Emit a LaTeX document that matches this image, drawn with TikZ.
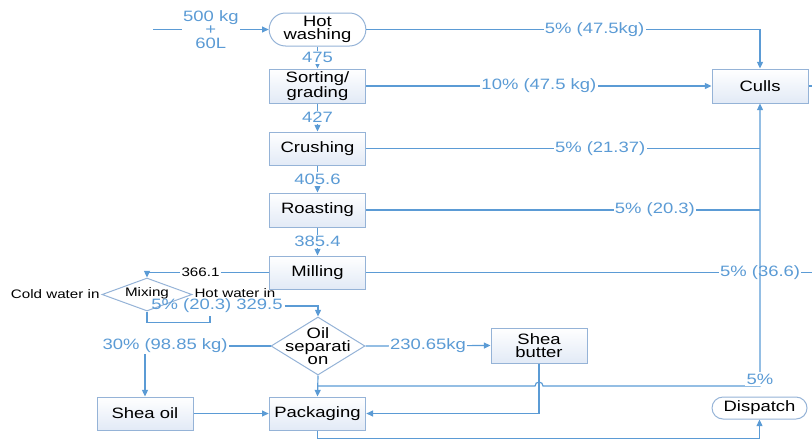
\documentclass[tikz,border=0pt]{standalone}
\usepackage{fontspec}
\setmainfont{Liberation Sans}[FakeStretch=1.23]
\usetikzlibrary{shapes.geometric,arrows.meta}
\definecolor{flowblue}{RGB}{91,155,213}
\definecolor{boxedge}{RGB}{149,179,215}
\definecolor{boxshade}{RGB}{226,234,246}
\tikzset{
  proc/.style={draw=boxedge,line width=0.6pt,top color=white,bottom color=boxshade,
    minimum width=58pt,minimum height=20.4pt,align=center,inner sep=1pt},
  term/.style={draw=boxedge,line width=0.6pt,fill=white,rounded corners=#1,
    minimum width=58pt,align=center,inner sep=1pt},
  decide/.style={draw=boxedge,line width=0.6pt,diamond,fill=white,inner sep=0pt},
  flow/.style={draw=flowblue,line width=0.7pt},
  arr/.style={-{Triangle[length=4pt,width=3.6pt]}},
  qty/.style={text=flowblue,fill=white,inner sep=0.8pt,align=center},
  note/.style={font=\fontsize{7.4}{8}\selectfont,inner sep=1pt}
}
\begin{document}
\begin{tikzpicture}[x=0.6pt,y=-0.6pt,every node/.style={font=\fontsize{9}{8}\selectfont}]
\useasboundingbox (0,0) rectangle (812,439);
\node[term=9.8pt,minimum height=19.8pt] (wash) at (317.5,29.5) {Hot\\washing};
\node[proc] (sort) at (317.5,86) {Sorting/\\grading};
\node[proc,minimum height=19.8pt] (crush) at (317.5,148.5) {Crushing};
\node[proc] (roast) at (317.5,210) {Roasting};
\node[proc,minimum height=19.8pt] (mill) at (317.5,272.5) {Milling};
\node[proc,minimum width=57.6pt] (culls) at (760,86) {Culls};
\node[decide,minimum width=54pt,minimum height=19.8pt,label={[note,yshift=1pt]center:Mixing}] (mix) at (147,294.5) {};
\node[note,anchor=east] (coldin) at (mix.west) {Cold water in};
\node[note,anchor=west,yshift=0.6pt] (hotin) at (mix.east) {Hot water in};
\node[decide,minimum width=56.4pt,minimum height=34.8pt,label={[align=center]center:Oil\\separati\\on}] (oil) at (318,346) {};
\node[proc,minimum width=57.6pt,minimum height=21pt] (butter) at (539,345.5) {Shea\\butter};
\node[proc,minimum width=57.6pt,minimum height=19.8pt] (sheaoil) at (145,413.5) {Shea oil};
\node[proc,minimum height=19.8pt] (pack) at (317.5,413.5) {Packaging};
\node[term=6.6pt,minimum width=57pt,minimum height=13.2pt] (dispatch) at (759.5,408) {Dispatch};
\node[qty,fill=none,inner sep=0pt] (mixloss) at (217,306) {5\% (20.3) 329.5};
\coordinate (feed) at (153,29.5);
\coordinate (split) at (oil.south |- 0,386);
\draw[flow,arr] (feed) -- node[qty] (feedqty) {500 kg\\+\\60L} (wash.west);
\draw[flow,arr] (wash) -- node[qty] (q475) {475} (sort);
\draw[flow,arr] (sort) -- node[qty] (q427) {427} (crush);
\draw[flow,arr] (crush) -- node[qty] (q4056) {405.6} (roast);
\draw[flow,arr] (roast) -- node[qty] (q3854) {385.4} (mill);
\draw[flow,arr] (wash.east) -| node[qty,pos=0.29] (washloss) {5\% (47.5kg)} (culls.north);
\draw[flow,arr] (sort.east) -- node[qty] (sortloss) {10\% (47.5 kg)} (culls.west);
\draw[flow] (crush.east) -- node[qty,pos=0.594] (crushloss) {5\% (21.37)} (crush.east -| culls.south);
\draw[flow] (roast.east) -- node[qty,pos=0.733] (roastloss) {5\% (20.3)} (roast.east -| culls.south);
\draw[flow] (mill.east) -- node[qty,pos=0.883] (millloss) {5\% (36.6)} ++(446,0);
\draw[flow] (culls.east) -- ++(4,0);
\draw[flow,arr] (mill.west) -| node[note,fill=white,pos=0.28] (millout) {366.1} (mix.north);
\draw[flow] (mix.south) -- ++(0,11) -- ++(63,0) -- ++(0,-7);
\draw[flow,arr] ([xshift=1pt]mixloss.east) -| (oil.north);
\draw[flow,arr] (oil.west) -| node[qty,pos=0.42] (oilqty) {30\% (98.85 kg)} (sheaoil.north);
\draw[flow,arr] (oil.east) -- node[qty] (butterqty) {230.65kg} (butter.west);
\draw[flow,arr] (oil.south) -- (pack.north);
\draw[flow,arr] (butter.south) |- (pack.east);
\draw[flow,arr] (sheaoil) -- (pack);
\draw[flow,arr] (split) -- ([xshift=-2.4pt]butter.south |- split) arc[start angle=180,end angle=0,radius=2.4pt] -| (culls.south);
\node[qty] (oilloss) at (760,379) {5\%};
\draw[flow,arr] (pack.south) -- ++(0,8) -| (dispatch.south);
\end{tikzpicture}
\end{document}
